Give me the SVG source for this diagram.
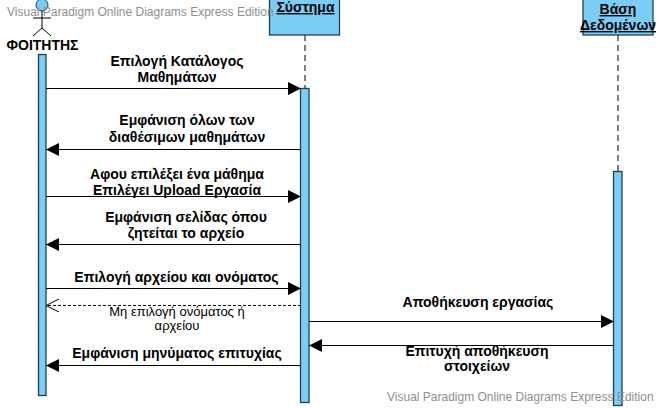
<svg xmlns="http://www.w3.org/2000/svg" width="659" height="408" viewBox="0 0 659 408">
<style>
text{font-family:"Liberation Sans",Arial,sans-serif;text-anchor:middle;fill:#000}
.b{font-size:14px;font-weight:bold}
.n{font-size:13px}
.h{font-size:14px;font-weight:bold;text-decoration:underline}
.wm{font-size:12px;fill:#8f8f8f;text-anchor:start}
.box{fill:#7ccdf5;stroke:#24404f;stroke-width:1.3}
.life{stroke:#808080;stroke-width:2;stroke-dasharray:6 4;fill:none}
.m{stroke:#000;stroke-width:1.2;fill:none}
.d{stroke:#000;stroke-width:1;stroke-dasharray:3 2;fill:none}
</style>
<defs>
<marker id="f" markerUnits="userSpaceOnUse" markerWidth="14" markerHeight="14" refX="13" refY="6.5" orient="auto"><path d="M0 0L13 6.5L0 13Z" fill="#000"/></marker>
<marker id="o" markerUnits="userSpaceOnUse" markerWidth="14" markerHeight="14" refX="13" refY="6.5" orient="auto"><path d="M0 0L13 6.5L0 13" fill="none" stroke="#000"/></marker>
</defs>
<g id="student">
<circle cx="42" cy="5" r="6" fill="#7ccdf5" stroke="#24404f"/>
<path d="M42 11V28M33 18H51M42 28L33 36M42 28L51 36" fill="none" stroke="#000"/>
<text class="b" x="42.500" y="50">ΦΟΙΤΗΤΗΣ</text>
<rect class="box" x="38.500" y="54.500" width="7.500" height="341"/>
</g>
<g id="system">
<path class="life" d="M305 35V88"/>
<rect class="box" x="269.500" y="-1" width="70" height="36"/>
<text class="h" x="305.500" y="12">Σύστημα</text>
<rect class="box" x="300.500" y="88.500" width="8.500" height="314"/>
</g>
<g id="database">
<path class="life" d="M618 35V171"/>
<rect class="box" x="583" y="-1" width="70" height="36"/>
<text class="h" x="618" y="14">Βάση</text>
<text class="h" x="618" y="30">Δεδομένων</text>
<rect class="box" x="613.500" y="171.500" width="8.500" height="234"/>
</g>
<g id="connectors">
<path class="m" marker-end="url(#f)" d="M46 88.500H301"/>
<path class="m" marker-end="url(#f)" d="M301 149.500H46"/>
<path class="m" marker-end="url(#f)" d="M46 196.500H301"/>
<path class="m" marker-end="url(#f)" d="M301 244.500H46"/>
<path class="m" marker-end="url(#f)" d="M46 288.500H301"/>
<path class="d" marker-end="url(#o)" d="M301 305.500H46"/>
<path class="m" marker-end="url(#f)" d="M309 321.500H614"/>
<path class="m" marker-end="url(#f)" d="M614 345.500H309"/>
<path class="m" marker-end="url(#f)" d="M301 365.500H46"/>
</g>
<g id="labels">
<text class="b" x="177" y="66">Επιλογή Κατάλογος</text>
<text class="b" x="177" y="82">Μαθημάτων</text>
<text class="b" x="187" y="125">Εμφάνιση όλων των</text>
<text class="b" x="187" y="142">διαθέσιμων μαθημάτων</text>
<text class="b" x="177" y="179">Αφου επιλέξει ένα μάθημα</text>
<text class="b" x="177" y="195">Επιλέγει Upload Εργασία</text>
<text class="b" x="186" y="222">Εμφάνιση σελίδας όπου</text>
<text class="b" x="186" y="238">ζητείται το αρχείο</text>
<text class="b" x="176.500" y="282">Επιλογή αρχείου και ονόματος</text>
<text class="n" x="177" y="316">Μη επιλογή ονόματος ή</text>
<text class="n" x="177" y="330">αρχείου</text>
<text class="b" x="478" y="307">Αποθήκευση εργασίας</text>
<text class="b" x="477" y="356">Επιτυχή αποθήκευση</text>
<text class="b" x="477" y="371">στοιχείων</text>
<text class="b" x="177" y="358">Εμφάνιση μηνύματος επιτυχίας</text>
</g>
<text class="wm" x="7" y="16">Visual Paradigm Online Diagrams Express Edition</text>
<text class="wm" x="387" y="401">Visual Paradigm Online Diagrams Express Edition</text>
</svg>
